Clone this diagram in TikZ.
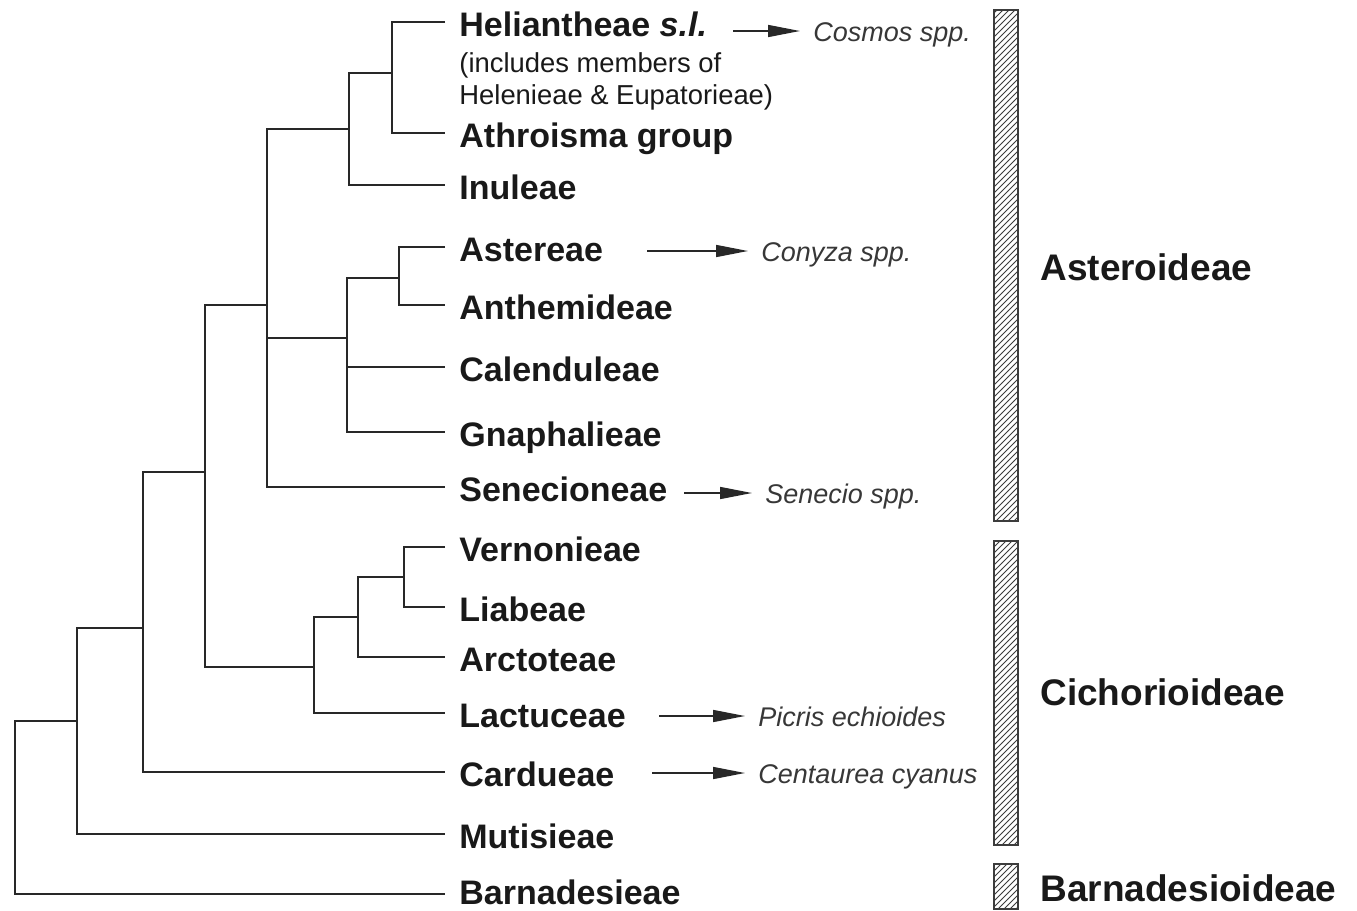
\documentclass[tikz,border=0pt]{standalone}
\usepackage{fontspec}
\setmainfont{Liberation Sans}
\usetikzlibrary{arrows.meta, positioning, patterns}
\definecolor{treecolor}{RGB}{40, 40, 40}
\definecolor{textcolor}{RGB}{25, 25, 25}
\definecolor{speciescolor}{RGB}{55, 55, 55}
\definecolor{barcolor}{RGB}{60, 60, 60}
\tikzstyle{branch} = [draw=treecolor, line width=1.25pt]
\tikzstyle{tribe} = [anchor=west, inner xsep=7pt, inner ysep=0pt, text height=14pt, text depth=0pt, font=\fontsize{17}{20}\selectfont\bfseries, text=textcolor]
\tikzstyle{note} = [inner xsep=7pt, inner ysep=0pt, align=left, font=\fontsize{13.7}{16}\selectfont, text=textcolor]
\tikzstyle{species} = [inner xsep=6.5pt, inner ysep=0pt, text height=10pt, text depth=0pt, font=\fontsize{13.5}{16}\selectfont\itshape, text=speciescolor]
\tikzstyle{subfam} = [anchor=west, inner sep=0pt, text height=13pt, text depth=0pt, font=\fontsize{18.5}{22}\selectfont\bfseries, text=textcolor]
\tikzstyle{cladebar} = [draw=barcolor, line width=0.8pt, pattern=north east lines, pattern color=barcolor]
\tikzstyle{arrow} = [line width=0.8pt, -{Triangle[length=16pt, width=6pt]}, color=treecolor]

\begin{document}
\begin{tikzpicture}[x=0.5pt, y=-0.5pt]
\useasboundingbox (0,0) rectangle (1357,911);

% Tribes
\node (helian) [tribe] at (445,22) {Heliantheae \textit{s.l.}};
\node (helnote) [note, below=8pt of helian.south west, anchor=north west] {(includes members of\\Helenieae \& Eupatorieae)};
\node (athro) [tribe] at (445,133) {Athroisma group};
\node (inul) [tribe] at (445,185) {Inuleae};
\node (aster) [tribe] at (445,247) {Astereae};
\node (anthem) [tribe] at (445,305) {Anthemideae};
\node (calend) [tribe] at (445,367) {Calenduleae};
\node (gnaph) [tribe] at (445,432) {Gnaphalieae};
\node (senec) [tribe] at (445,487) {Senecioneae};
\node (vernon) [tribe] at (445,547) {Vernonieae};
\node (liab) [tribe] at (445,607) {Liabeae};
\node (arcto) [tribe] at (445,657) {Arctoteae};
\node (lactu) [tribe] at (445,713) {Lactuceae};
\node (cardu) [tribe] at (445,772) {Cardueae};
\node (mutis) [tribe] at (445,834) {Mutisieae};
\node (barna) [tribe, text depth=4pt] at (445,894) {Barnadesieae};

% Junctions
\coordinate (helath) at (392,73);
\coordinate (inugrp) at (349,129);
\coordinate (astant) at (399,278);
\coordinate (calgrp) at (347,338);
\coordinate (astcore) at (267,305);
\coordinate (verlia) at (404,577);
\coordinate (arcgrp) at (358,617);
\coordinate (lacgrp) at (314,667);
\coordinate (asterocich) at (205,472);
\coordinate (cargrp) at (143,628);
\coordinate (mutgrp) at (77,721);
\coordinate (root) at (15,807);

% Branches
\draw [branch] (helian.west) -| (helath) |- (athro.west);
\draw [branch] (helath) -| (inugrp) |- (inul.west);
\draw [branch] (aster.west) -| (astant) |- (anthem.west);
\draw [branch] (astant) -| (calgrp) |- (gnaph.west);
\draw [branch] (calgrp) |- (calend.west);
\draw [branch] (inugrp) -| (astcore) |- (senec.west);
\draw [branch] (astcore) |- (calgrp);
\draw [branch] (vernon.west) -| (verlia) |- (liab.west);
\draw [branch] (verlia) -| (arcgrp) |- (arcto.west);
\draw [branch] (arcgrp) -| (lacgrp) |- (lactu.west);
\draw [branch] (astcore) -| (asterocich) |- (lacgrp);
\draw [branch] (asterocich) -| (cargrp) |- (cardu.west);
\draw [branch] (cargrp) -| (mutgrp) |- (mutis.west);
\draw [branch] (mutgrp) -| (root) |- (barna.west);

% Species
\coordinate (cosarr) at (733,31);
\coordinate (conarr) at (647,251);
\coordinate (senarr) at (684,493);
\coordinate (picarr) at (659,716);
\coordinate (cenarr) at (652,773);
\node (cosmos) [species, right=33.5pt of cosarr] {Cosmos spp.};
\node (conyza) [species, right=50.5pt of conarr] {Conyza spp.};
\node (senecio) [species, right=34pt of senarr] {Senecio spp.};
\node (picris) [species, right=43pt of picarr] {Picris echioides};
\node (centau) [species, right=46.5pt of cenarr] {Centaurea cyanus};

% Arrows
\draw [arrow] (cosarr) -- (cosmos);
\draw [arrow] (conarr) -- (conyza);
\draw [arrow] (senarr) -- (senecio);
\draw [arrow] (picarr) -- (picris);
\draw [arrow] (cenarr) -- (centau);

% Subfamilies
\draw [cladebar] (994,10) rectangle (1018,521);
\draw [cladebar] (994,541) rectangle (1018,845);
\draw [cladebar] (994,864) rectangle (1018,909);
\node (asteroid) [subfam] at (1040,267) {Asteroideae};
\node (cichor) [subfam] at (1040,692) {Cichorioideae};
\node (barnsub) [subfam] at (1040,888) {Barnadesioideae};

\end{tikzpicture}
\end{document}
